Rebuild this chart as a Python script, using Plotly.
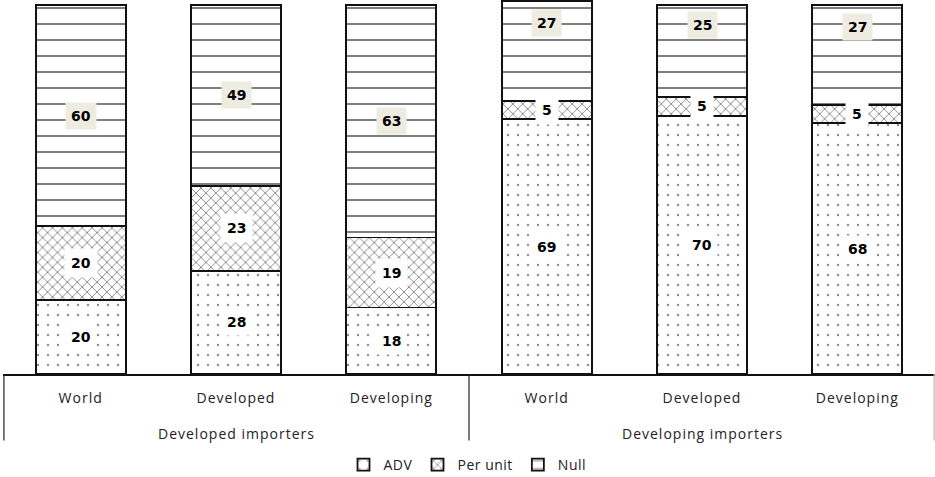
import plotly.graph_objects as go

categories = ["World", "Developed", "Developing", "World", "Developed", "Developing"]
groups = ["Developed importers", "Developing importers"]
group_sizes = [3, 3]
adv = [20, 28, 18, 69, 70, 68]
per_unit = [20, 23, 19, 5, 5, 5]
null = [60, 49, 63, 27, 25, 27]

x = list(range(len(categories)))
xmin, xmax = -0.5, len(categories) - 0.5


def spaced(s, px=1):
    return f'<span style="letter-spacing:{px}px">{s}</span>'


line = dict(color="#111111", width=1.8)
fig = go.Figure()
fig.add_bar(x=x, y=adv, name=spaced("ADV", 0.5), width=0.58,
            marker=dict(color="white", line=line,
                        pattern=dict(shape=".", size=10, solidity=0.05,
                                     fgcolor="#222222", bgcolor="white")))
fig.add_bar(x=x, y=per_unit, name=spaced("Per unit", 0.5), width=0.58,
            marker=dict(color="white", line=line,
                        pattern=dict(shape="x", size=7, solidity=0.26,
                                     fgcolor="#1a1a1a", bgcolor="white")))
fig.add_bar(x=x, y=null, name=spaced("Null", 0.5), width=0.58,
            marker=dict(color="white", line=line,
                        pattern=dict(shape="-", size=16, solidity=0.125,
                                     fgcolor="#000000", bgcolor="white")))

annotations = []
lab_font = dict(family="DejaVu Sans", size=14, color="black")
gidx = []
for g, n in enumerate(group_sizes):
    gidx += [g] * n
null_frac = [0.5, 0.78]
for i in x:
    a, p, n = adv[i], per_unit[i], null[i]
    annotations.append(dict(x=i, y=a / 2, text=f"<b>{a}</b>", showarrow=False,
                            font=lab_font, bgcolor="white", borderpad=5))
    annotations.append(dict(x=i, y=a + p / 2, text=f"<b>{p}</b>", showarrow=False,
                            font=lab_font, bgcolor="white", borderpad=6))
    annotations.append(dict(x=i, y=a + p + n * null_frac[gidx[i]], text=f"<b>{n}</b>",
                            showarrow=False, font=lab_font, bgcolor="#EEECE1", borderpad=5))

ax_font = dict(family="Open Sans", size=14, color="#222222")
shapes = []
start = 0
bounds = [xmin]
for g, n in zip(groups, group_sizes):
    center = start + (n - 1) / 2
    annotations.append(dict(x=center, xref="x", y=-0.158, yref="paper", text=spaced(g),
                            showarrow=False, font=ax_font, yanchor="middle"))
    start += n
    bounds.append(start - 0.5)
for k, b in enumerate(bounds):
    px = (b - xmin) / (xmax - xmin)
    px = min(max(px, 0.001), 0.999)
    shapes.append(dict(type="line", xref="paper", yref="paper", x0=px, x1=px,
                       y0=0, y1=-0.178,
                       line=dict(color="#222222" if k < len(bounds) - 1 else "#bbbbbb", width=1.2)))

fig.update_layout(
    barmode="stack",
    width=935, height=477,
    margin=dict(l=3, r=0, t=0, b=103, autoexpand=False),
    paper_bgcolor="white", plot_bgcolor="white",
    showlegend=True,
    legend=dict(orientation="h", x=0.5, xanchor="center", xref="container",
                y=0.025, yanchor="middle", yref="container",
                traceorder="normal", font=dict(family="Open Sans", size=14, color="#222222"),
                itemwidth=30, tracegroupgap=0),
    xaxis=dict(range=[xmin, xmax], tickvals=x, ticktext=[spaced(c) for c in categories],
               showgrid=False, zeroline=False, showline=True, linecolor="#111111", linewidth=2,
               ticks="", ticklabelstandoff=10, tickfont=ax_font, fixedrange=True,
               automargin=False),
    yaxis=dict(range=[0, 101.35], visible=False, showgrid=False, fixedrange=True),
    annotations=annotations,
    shapes=shapes,
)

fig.write_html("out.html", config={"displayModeBar": False},
               post_script="document.body.style.margin='0';document.body.style.overflow='hidden';")
